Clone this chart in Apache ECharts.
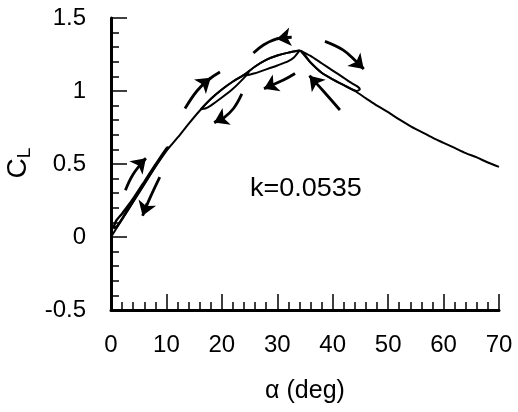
<!DOCTYPE html>
<html>
<head>
<meta charset="utf-8">
<script src="https://cdn.jsdelivr.net/npm/echarts@6/dist/echarts.min.js"></script>
<style>
html,body{margin:0;padding:0;background:#fff;}
#chart{width:518px;height:412px;}
</style>
</head>
<body>
<div id="chart"></div>
<script>
// ---- data (alpha in deg, CL) ----
const xTicks = [0, 10, 20, 30, 40, 50, 60, 70];
const yTicks = [-0.5, 0, 0.5, 1, 1.5];

const staticAlpha = [0,2,4,6,8,10,12,14,16,18,20,22,24,26,28,30,32,34,36,38,40,42,44,46,48,50,52,54,56,58,60,62,64,66,68,70];
const staticCL    = [0,0.12,0.24,0.36,0.48,0.59,0.68,0.775,0.865,0.945,1.01,1.065,1.11,1.168,1.213,1.243,1.263,1.277,1.195,1.125,1.08,1.04,1.0,0.95,0.9,0.855,0.805,0.76,0.72,0.68,0.645,0.61,0.575,0.545,0.51,0.48];

const loop1Alpha = [0.4,1,2,3,4,6,8,10,10.4,10,8,6,4,3,2,1,0.4];
const loop1CL    = [0.06,0.115,0.16,0.21,0.262,0.378,0.495,0.607,0.615,0.597,0.485,0.365,0.245,0.185,0.125,0.07,0.06];

const loop2Alpha = [16.2,18,20,22,24,24.9,24,22,20,18,17,16.2];
const loop2CL    = [0.875,0.945,1.01,1.065,1.11,1.13,1.09,1.015,0.955,0.9,0.88,0.875];

const loop3Alpha = [24,26,28,30,32,34,33,32,30,28,26,24.5,24];
const loop3CL    = [1.11,1.168,1.213,1.243,1.263,1.277,1.23,1.205,1.175,1.148,1.122,1.108,1.11];

const loop4Alpha = [34.2,36,38,40,42,43.5,44.5,44.9,44.3,42,40,38,36,34.5,34.2];
const loop4CL    = [1.277,1.24,1.19,1.14,1.09,1.052,1.03,1.012,1.0,1.04,1.08,1.125,1.195,1.262,1.277];

// annotation arrows: body paths and arrow-head segments (data coords)
const arrowBodies = [
  [[2.6,0.32],[4.0,0.43],[6.2,0.535]],
  [[8.8,0.41],[7.3,0.29],[5.8,0.16]],
  [[13.35,0.88],[15.5,1.0],[17.5,1.075],[19.66,1.13]],
  [[23.6,0.98],[22.1,0.88],[20.3,0.815],[18.7,0.785]],
  [[32.6,1.368],[29.9,1.357],[27.5,1.315],[25.7,1.26]],
  [[33.2,1.12],[31.1,1.075],[27.8,1.02]],
  [[38.6,1.34],[41.9,1.28],[44.3,1.2],[45.5,1.155]],
  [[41.3,0.87],[38.3,1.0],[35.9,1.1]]
];
const arrowHeads = [
  [[5.1,0.495],[6.3,0.54]],
  [[6.5,0.23],[5.7,0.145]],
  [[16.4,1.04],[18.0,1.09]],
  [[20.0,0.81],[18.6,0.784]],
  [[31.5,1.366],[29.9,1.357]],
  [[29.3,1.045],[27.6,1.015]],
  [[44.4,1.195],[45.6,1.15]],
  [[37.1,1.05],[35.8,1.105]]
];

const annotationText = 'k=0.0535';
const xName = 'α (deg)';

// ---- chart ----
const FONT = '"Liberation Sans", Arial, Helvetica, sans-serif';
const chart = echarts.init(document.getElementById('chart'), null, {renderer:'canvas'});

function pairs(a, b){ return a.map((v,i)=>[v,b[i]]); }
const lineBase = {type:'line', showSymbol:false, symbol:'none', silent:true, clip:false, animation:false};

const series = [
  Object.assign({}, lineBase, {data: pairs(staticAlpha, staticCL), smooth:0.3, lineStyle:{color:'#000', width:2}}),
  Object.assign({}, lineBase, {data: pairs(loop1Alpha, loop1CL), smooth:0.2, lineStyle:{color:'#000', width:2.4}}),
  Object.assign({}, lineBase, {data: pairs(loop2Alpha, loop2CL), smooth:0.2, lineStyle:{color:'#000', width:2}}),
  Object.assign({}, lineBase, {data: pairs(loop3Alpha, loop3CL), smooth:0.2, lineStyle:{color:'#000', width:2}}),
  Object.assign({}, lineBase, {data: pairs(loop4Alpha, loop4CL), smooth:0.2, lineStyle:{color:'#000', width:2}})
];
arrowBodies.forEach(b=>{
  series.push(Object.assign({}, lineBase, {data: b, smooth:0.4, lineStyle:{color:'#000', width:2.8}}));
});
series.push({
  type:'lines', coordinateSystem:'cartesian2d', silent:true, animation:false,
  symbol:['none','arrow'], symbolSize:14,
  lineStyle:{color:'#000', width:2.8, curveness:0, opacity:1},
  data: arrowHeads.map(h=>({coords:h}))
});

const option = {
  backgroundColor:'#fff',
  animation:false,
  grid:{left:111, right:19, top:18, bottom:102, containLabel:false},
  xAxis:{
    type:'value', min:xTicks[0], max:xTicks[xTicks.length-1], interval:10,
    axisLine:{show:true, onZero:false, lineStyle:{color:'#000', width:3}},
    axisTick:{show:true, inside:true, length:16, lineStyle:{color:'#000', width:1.5}},
    minorTick:{show:true, splitNumber:5, length:8, lineStyle:{color:'#000', width:1.5}},
    splitLine:{show:false},
    axisLabel:{color:'#000', fontSize:24, fontFamily:FONT, margin:23}
  },
  yAxis:{
    type:'value', min:yTicks[0], max:yTicks[yTicks.length-1], interval:0.5,
    axisLine:{show:true, onZero:false, lineStyle:{color:'#000', width:3}},
    axisTick:{show:true, inside:true, length:16, lineStyle:{color:'#000', width:1.5}},
    minorTick:{show:true, splitNumber:5, length:8, lineStyle:{color:'#000', width:1.5}},
    splitLine:{show:false},
    axisLabel:{color:'#000', fontSize:24, fontFamily:FONT, margin:25}
  },
  graphic:[
    {type:'text', x:250, y:189, scaleX:1.08, silent:true,
      style:{text:annotationText, font:'25px '+FONT, fill:'#000', align:'left', verticalAlign:'middle'}},
    {type:'text', x:305, y:391, silent:true,
      style:{text:xName, font:'25px '+FONT, fill:'#000', align:'center', verticalAlign:'middle'}},
    {type:'text', x:18, y:163, rotation:Math.PI/2, silent:true,
      style:{text:'{c|C}{l|L}', fill:'#000', align:'center', verticalAlign:'middle',
        rich:{c:{fontSize:28, fontFamily:FONT, lineHeight:32, verticalAlign:'middle', fill:'#000'},
              l:{fontSize:19, fontFamily:FONT, lineHeight:32, verticalAlign:'bottom', fill:'#000'}}}}
  ],
  series: series
};
chart.setOption(option);
</script>
</body>
</html>
